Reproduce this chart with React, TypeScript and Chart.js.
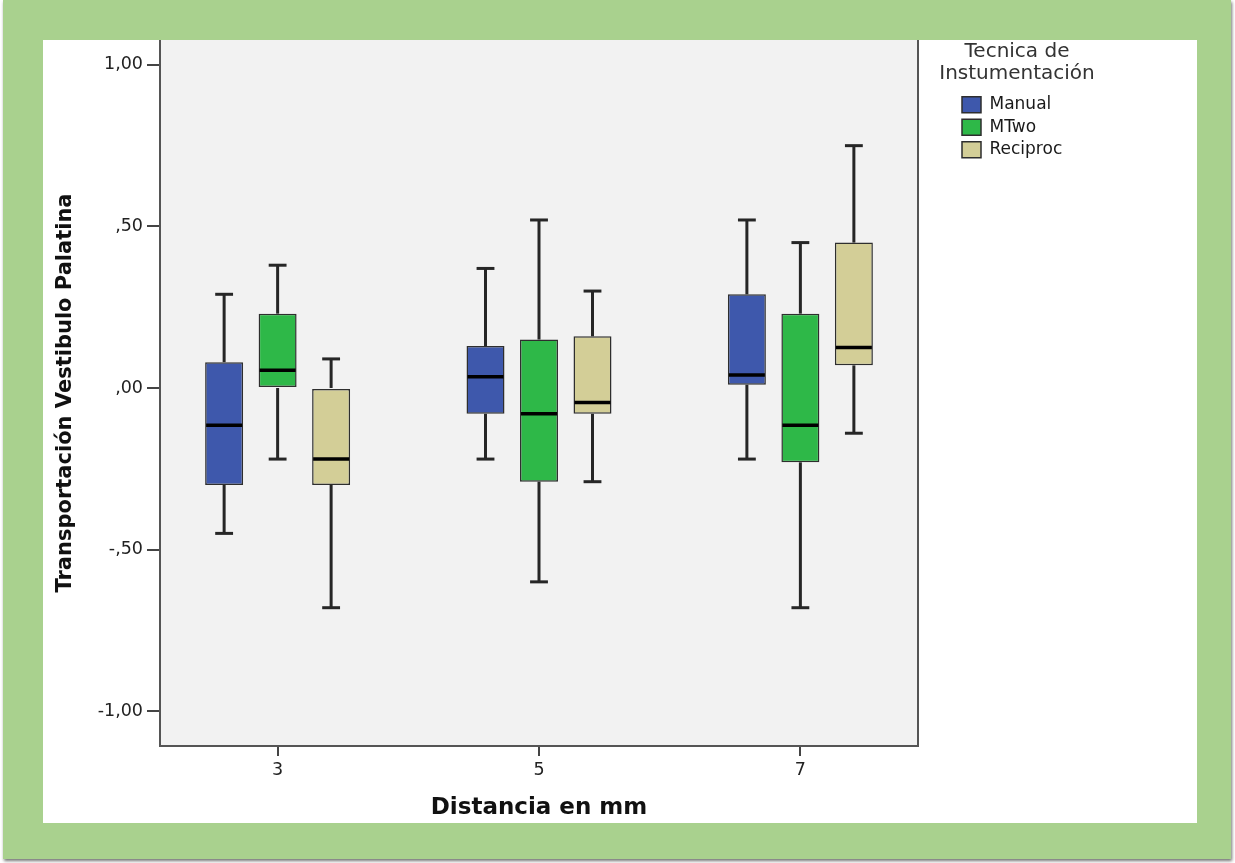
import React, { useEffect, useRef } from 'react';
import { Chart, registerables } from 'chart.js';

Chart.register(...registerables);

const FONT = "'DejaVu Sans', sans-serif";
Chart.defaults.font.family = FONT;

// ---- data ----
const distances = [3, 5, 7];
const distanceLabels = ['3', '5', '7'];
const seriesNames = ['Manual', 'MTwo', 'Reciproc'];
const seriesColors = ['#3E58AC', '#2EB848', '#D3CE97'];

const manualMin = [-0.45, -0.22, -0.22];
const manualQ1 = [-0.3, -0.08, 0.01];
const manualMedian = [-0.115, 0.035, 0.04];
const manualQ3 = [0.08, 0.13, 0.29];
const manualMax = [0.29, 0.37, 0.52];

const mtwoMin = [-0.22, -0.6, -0.68];
const mtwoQ1 = [0.0, -0.29, -0.23];
const mtwoMedian = [0.055, -0.08, -0.115];
const mtwoQ3 = [0.23, 0.15, 0.23];
const mtwoMax = [0.38, 0.52, 0.45];

const reciprocMin = [-0.68, -0.29, -0.14];
const reciprocQ1 = [-0.3, -0.08, 0.07];
const reciprocMedian = [-0.22, -0.045, 0.125];
const reciprocQ3 = [0.0, 0.16, 0.45];
const reciprocMax = [0.09, 0.3, 0.75];

const yTickValues = [-1, -0.5, 0, 0.5, 1];
const yTickLabels = ['-1,00', '-,50', ',00', ',50', '1,00'];

const legendTitle = ['Tecnica de', 'Instumentación'];
const xTitle = 'Distancia en mm';
const yTitle = 'Transportación Vestibulo Palatina';

const mins = [manualMin, mtwoMin, reciprocMin];
const q1s = [manualQ1, mtwoQ1, reciprocQ1];
const medians = [manualMedian, mtwoMedian, reciprocMedian];
const q3s = [manualQ3, mtwoQ3, reciprocQ3];
const maxs = [manualMax, mtwoMax, reciprocMax];

const LEGEND_WIDTH = 121;

const plotBackground = {
  id: 'plotBackground',
  beforeDraw(chart: any) {
    const { ctx, chartArea } = chart;
    ctx.save();
    ctx.fillStyle = '#ffffff';
    ctx.fillRect(0, 0, chart.width, chart.height);
    ctx.fillStyle = '#f2f2f2';
    ctx.fillRect(chartArea.left, chartArea.top, chartArea.right - chartArea.left, chartArea.bottom - chartArea.top);
    ctx.restore();
  },
};

// fixes the legend box width and lets its two-line title overflow the box
const legendWidthFix = {
  id: 'legendWidthFix',
  beforeLayout(chart: any) {
    const lg = chart.legend;
    if (lg && !lg.__fixed) {
      const orig = lg.fit.bind(lg);
      lg.fit = function () {
        orig();
        this.width = LEGEND_WIDTH;
      };
      lg.draw = function () {
        if (this.options.display) this._draw();
      };
      lg.__fixed = true;
    }
  },
};

const whiskers = {
  id: 'whiskers',
  afterDatasetsDraw(chart: any) {
    const { ctx } = chart;
    const y = chart.scales.y;
    const line = (x1: number, y1: number, x2: number, y2: number) => {
      ctx.beginPath();
      ctx.moveTo(x1, y1);
      ctx.lineTo(x2, y2);
      ctx.stroke();
    };
    seriesNames.forEach((_, i) => {
      const meta = chart.getDatasetMeta(i);
      meta.data.forEach((el: any, j: number) => {
        const x = el.x;
        const w = el.width;
        const cap = w * 0.47;
        const pMin = y.getPixelForValue(mins[i][j]);
        const pQ1 = y.getPixelForValue(q1s[i][j]);
        const pMed = y.getPixelForValue(medians[i][j]);
        const pQ3 = y.getPixelForValue(q3s[i][j]);
        const pMax = y.getPixelForValue(maxs[i][j]);
        ctx.save();
        ctx.strokeStyle = '#262626';
        ctx.lineWidth = 3;
        line(x, pQ3, x, pMax);
        line(x - cap / 2, pMax, x + cap / 2, pMax);
        line(x, pQ1, x, pMin);
        line(x - cap / 2, pMin, x + cap / 2, pMin);
        ctx.strokeStyle = '#000000';
        ctx.lineWidth = 3.5;
        line(x - w / 2 + 1, pMed, x + w / 2 - 1, pMed);
        ctx.restore();
      });
    });
  },
};

export default function App() {
  const ref = useRef<HTMLCanvasElement | null>(null);

  useEffect(() => {
    if (!ref.current) return;
    const chart = new Chart(ref.current, {
      type: 'bar',
      data: {
        datasets: seriesNames.map((name, i) => ({
          label: name,
          data: distances.map((d, j) => ({ x: d, y: [q1s[i][j], q3s[i][j]] })),
          backgroundColor: seriesColors[i],
          borderColor: '#2e2e2e',
          borderWidth: 1.5,
          borderSkipped: false,
          categoryPercentage: 0.614,
          barPercentage: 0.71,
        })) as any,
      },
      options: {
        responsive: false,
        animation: false,
        devicePixelRatio: 1,
        events: [],
        layout: { padding: { left: 0, top: 0, right: 119.5, bottom: 0 } },
        plugins: {
          tooltip: { enabled: false },
          legend: {
            position: 'right',
            align: 'start',
            title: {
              display: true,
              text: legendTitle as any,
              color: '#333333',
              font: { size: 20, lineHeight: 1.07, family: FONT },
              padding: { top: 2, bottom: 27.3 } as any,
            },
            labels: {
              boxWidth: 19,
              boxHeight: 16,
              padding: 5.5,
              color: '#1a1a1a',
              font: { size: 17, family: FONT },
            },
          },
        },
        scales: {
          x: {
            type: 'linear',
            min: 2.1,
            max: 7.9,
            offset: false,
            afterBuildTicks: (s: any) => {
              s.ticks = distances.map((v) => ({ value: v }));
            },
            afterFit: (s: any) => {
              s.height = 77;
              s.paddingLeft = 0;
              s.paddingRight = 0;
            },
            ticks: {
              callback: (_v: any, i: number) => distanceLabels[i],
              color: '#222222',
              font: { size: 17.5 },
              padding: 3.5,
              maxRotation: 0,
              autoSkip: false,
            },
            grid: { drawOnChartArea: false, drawTicks: true, tickLength: 10, color: '#444444', lineWidth: 2, offset: false },
            border: { display: true, color: '#555555', width: 2 },
            title: {
              display: true,
              text: xTitle,
              color: '#111111',
              font: { size: 23, weight: 'bold', family: FONT },
              padding: { top: 0, bottom: 1 },
            },
          },
          y: {
            type: 'linear',
            min: -1.108,
            max: 1.077,
            afterBuildTicks: (s: any) => {
              s.ticks = yTickValues.map((v) => ({ value: v }));
            },
            afterFit: (s: any) => {
              s.width = 117;
              s.paddingTop = 0;
              s.paddingBottom = 0;
            },
            ticks: {
              callback: (_v: any, i: number) => yTickLabels[i],
              color: '#222222',
              font: { size: 17.5 },
              padding: 4,
            },
            grid: { drawOnChartArea: false, drawTicks: true, tickLength: 13, color: '#444444', lineWidth: 2 },
            border: { display: true, color: '#555555', width: 2 },
            title: {
              display: true,
              text: yTitle,
              color: '#111111',
              font: { size: 21, weight: 'bold', family: FONT },
              padding: { top: 10.4, bottom: 0 },
            },
          },
          y2: {
            type: 'linear',
            position: 'right',
            display: true,
            grid: { display: false },
            ticks: { display: false },
            border: { display: true, color: '#555555', width: 2 },
            afterFit: (s: any) => {
              s.width = 38.5;
              s.paddingTop = 0;
              s.paddingBottom = 0;
            },
          },
        } as any,
      },
      plugins: [plotBackground, legendWidthFix, whiskers],
    });
    return () => chart.destroy();
  }, []);

  return (
    <div style={{ position: 'absolute', left: 0, top: 0, width: 1235, height: 863, background: '#ffffff', overflow: 'hidden' }}>
      <div
        style={{
          position: 'absolute',
          left: 3,
          top: 0,
          width: 1228,
          height: 859,
          background: '#a9d18e',
          boxShadow: '1px 2px 3px rgba(0,0,0,0.55)',
        }}
      />
      <canvas
        ref={ref}
        width={1154}
        height={783}
        style={{ position: 'absolute', left: 43, top: 40, width: 1154, height: 783, display: 'block' }}
      />
    </div>
  );
}
